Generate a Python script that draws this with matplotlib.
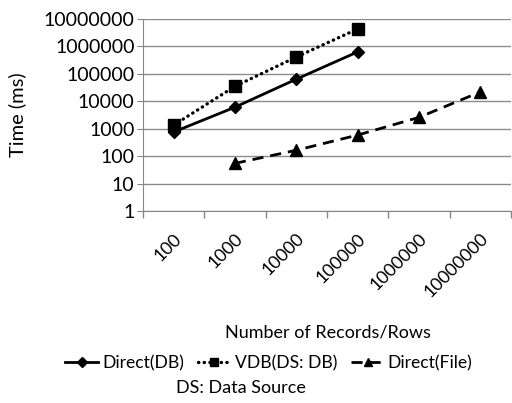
import numpy as np
import matplotlib.pyplot as plt

plt.rcParams['font.family'] = ['Lato', 'DejaVu Sans']

categories = ['100', '1000', '10000', '100000', '1000000', '10000000']
direct_db = [760, 6100, 64000, 630000, None, None]
vdb_ds_db = [1350, 35000, 410000, 4300000, None, None]
direct_file = [None, 55, 165, 590, 2600, 22000]


def to_arr(vals):
    return np.array([np.nan if v is None else v for v in vals], dtype=float)


fig = plt.figure(figsize=(5.12, 4.03), dpi=100)
ax = fig.add_axes([0.279, 0.476, 0.719, 0.477])

x = np.arange(len(categories))
ax.plot(x, to_arr(direct_db), color='black', lw=2, marker='D', ms=6.5,
        label='Direct(DB)')
ax.plot(x, to_arr(vdb_ds_db), color='black', lw=2.4, ls=(0, (0.1, 1.6)),
        dash_capstyle='round', marker='s', ms=8.5, label='VDB(DS: DB)')
ax.plot(x, to_arr(direct_file), color='black', lw=2, ls=(0, (4, 2.5)),
        marker='^', ms=8.5, label='Direct(File)')

ax.set_yscale('log')
ax.set_ylim(1, 10000000)
ax.set_yticks([10 ** i for i in range(8)])
ax.set_yticklabels([str(10 ** i) for i in range(8)])
ax.minorticks_off()
ax.set_xlim(-0.5, len(categories) - 0.5)
ax.set_xticks(x)
ax.set_xticklabels(categories, rotation=45, ha='right', va='top',
                   rotation_mode='anchor')
ax.set_xticks(np.arange(-0.5, len(categories), 1.0), minor=True)
ax.tick_params(axis='x', which='major', length=0, pad=14, labelsize=13)
ax.tick_params(axis='x', which='minor', length=5, color='#888888', width=1)
ax.tick_params(axis='y', length=4, color='#888888', labelsize=14, pad=2)

ax.grid(axis='y', color='#8c8c8c', lw=1)
ax.set_axisbelow(True)
for s in ['top', 'right']:
    ax.spines[s].set_visible(False)
for s in ['left', 'bottom']:
    ax.spines[s].set_color('#888888')

ax.set_ylabel('Time (ms)', fontsize=14.5, va='center')
ax.yaxis.set_label_coords(-0.34, 0.5)

fig.text(0.641, 0.174, 'Number of Records/Rows', ha='center', va='center',
         fontsize=13)
leg = fig.legend(loc='center', bbox_to_anchor=(0.525, 0.099), ncol=3,
                 frameon=False, fontsize=12.6, handlelength=1.9,
                 columnspacing=0.8, handletextpad=0.2, markerscale=0.75)
fig.text(0.471, 0.037, 'DS: Data Source', ha='center', va='center',
         fontsize=13)

fig.savefig('out.png', dpi=100)
